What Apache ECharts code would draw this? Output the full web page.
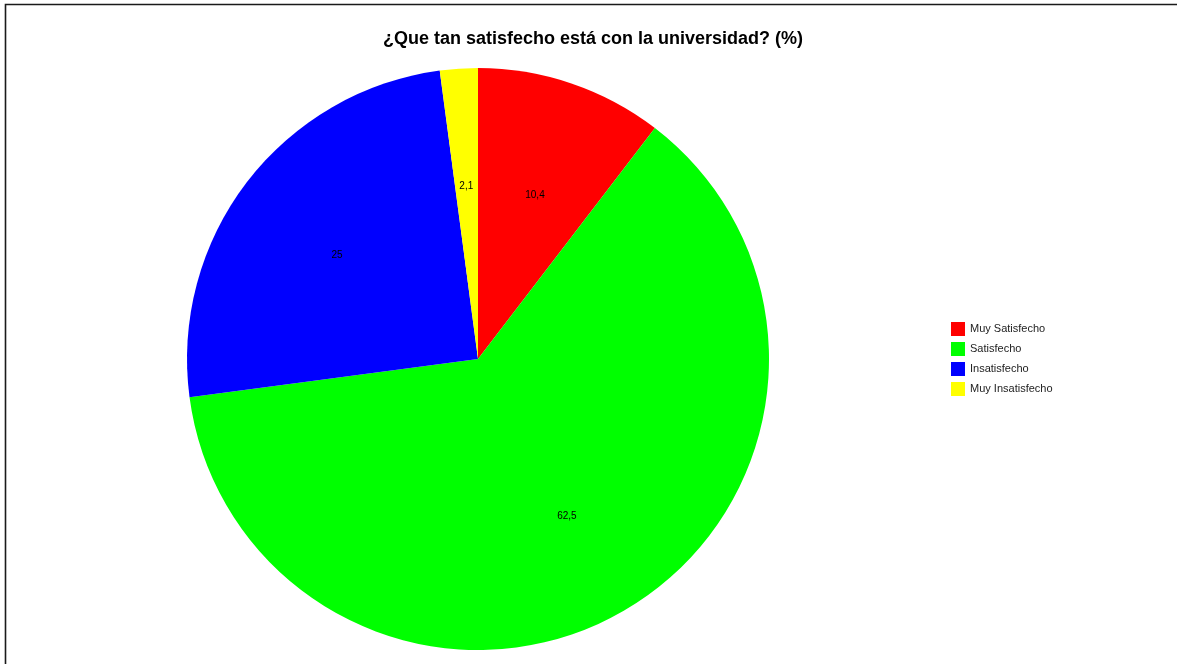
<!DOCTYPE html>
<html>
<head>
<meta charset="utf-8">
<script src="https://cdn.jsdelivr.net/npm/echarts@6/dist/echarts.min.js"></script>
<style>
html,body{margin:0;padding:0;background:#fff;}
#chart{width:1177px;height:664px;}
</style>
</head>
<body>
<div id="chart"></div>
<script>
const categories = ['Muy Satisfecho', 'Satisfecho', 'Insatisfecho', 'Muy Insatisfecho'];
const values = [10.4, 62.5, 25, 2.1];
const valueLabels = ['10,4', '62,5', '25', '2,1'];
const colors = ['#ff0000', '#00ff00', '#0000ff', '#ffff00'];
const titleText = '¿Que tan satisfecho está con la universidad? (%)';

const pieData = categories.map((c, i) => ({ name: c, value: values[i], itemStyle: { color: colors[i] } }));
const labelData = categories.map((c, i) => ({ name: c, value: values[i], label: { formatter: valueLabels[i] } }));

const chart = echarts.init(document.getElementById('chart'), null, { renderer: 'canvas' });
chart.setOption({
  animation: false,
  backgroundColor: '#ffffff',
  title: {
    text: titleText,
    left: 588, top: 25, textAlign: 'center',
    textStyle: { fontFamily: 'Liberation Sans, Arial, sans-serif', fontSize: 18, fontWeight: 'bold', color: '#000' }
  },
  legend: {
    orient: 'vertical', left: 951, top: 322, padding: 0,
    itemWidth: 14, itemHeight: 14, itemGap: 6,
    icon: 'rect',
    data: categories,
    textStyle: { fontFamily: 'Liberation Sans, Arial, sans-serif', fontSize: 11, color: '#222' }
  },
  graphic: [{
    type: 'polyline',
    shape: { points: [[5.5, 664], [5.5, 4.5], [1177, 4.5]] },
    style: { stroke: '#1a1a1a', lineWidth: 1.6, fill: null },
    silent: true
  }],
  series: [{
    type: 'pie',
    center: [478, 359],
    radius: [0, 291],
    startAngle: 90,
    clockwise: true,
    label: { show: false },
    labelLine: { show: false },
    emphasis: { disabled: true },
    data: pieData
  }, {
    type: 'pie',
    center: [478, 363],
    radius: [58, 291],
    startAngle: 90,
    clockwise: true,
    silent: true,
    legendHoverLink: false,
    itemStyle: { color: 'rgba(0,0,0,0)' },
    label: { show: true, position: 'inside', color: '#000', fontSize: 10, fontFamily: 'Liberation Sans, Arial, sans-serif' },
    labelLine: { show: false },
    emphasis: { disabled: true },
    data: labelData
  }]
});
</script>
</body>
</html>
